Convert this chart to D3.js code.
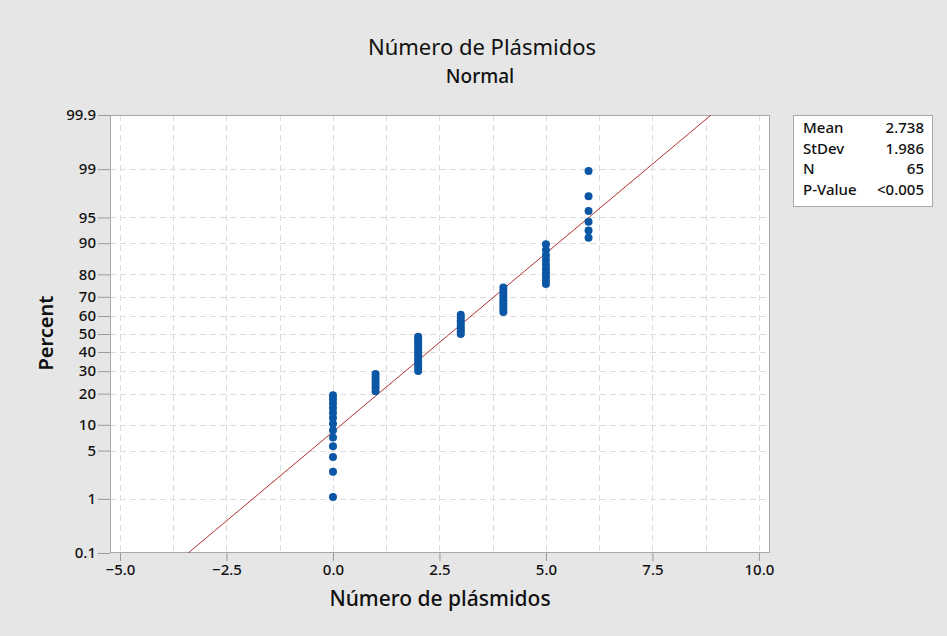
<!DOCTYPE html>
<html>
<head>
<meta charset="utf-8">
<script src="https://cdn.jsdelivr.net/npm/d3@7"></script>
<style>
  html, body { margin: 0; padding: 0; background: #e6e6e6; }
  svg { display: block; font-family: "Noto Sans", "Open Sans", sans-serif; }
</style>
</head>
<body>
<svg id="chart" width="947" height="636"></svg>
<script>
// Observed plasmid counts and how many isolates had each count (N = 65)
const plasmidValues = [0, 1, 2, 3, 4, 5, 6];
const plasmidFreq = [13, 6, 13, 8, 9, 10, 6];

// Probability axis ticks (percent)
const percentTicks = [0.1, 1, 5, 10, 20, 30, 40, 50, 60, 70, 80, 90, 95, 99, 99.9];
const xTicks = [-5, -2.5, 0, 2.5, 5, 7.5, 10];
const xGrid = [-5, -3.75, -2.5, -1.25, 0, 1.25, 2.5, 3.75, 5, 6.25, 7.5, 8.75, 10];

// Summary statistics shown in the legend box
const statLabels = ["Mean", "StDev", "N", "P-Value"];
const statValues = ["2.738", "1.986", "65", "<0.005"];
const fitMean = 2.738, fitSd = 1.986;

// Inverse standard normal CDF (Acklam's rational approximation)
function probit(p) {
  const a = [-39.69683028665376, 220.9460984245205, -275.9285104469687, 138.3577518672690, -30.66479806614716, 2.506628277459239];
  const b = [-54.47609879822406, 161.5858368580409, -155.6989798598866, 66.80131188771972, -13.28068155288572];
  const c = [-0.007784894002430293, -0.3223964580411365, -2.400758277161838, -2.549732539343734, 4.374664141464968, 2.938163982698783];
  const d = [0.007784695709041462, 0.3224671290700398, 2.445134137142996, 3.754408661907416];
  const pl = 0.02425;
  let q, r;
  if (p < pl) {
    q = Math.sqrt(-2 * Math.log(p));
    return (((((c[0]*q+c[1])*q+c[2])*q+c[3])*q+c[4])*q+c[5]) / ((((d[0]*q+d[1])*q+d[2])*q+d[3])*q+1);
  } else if (p <= 1 - pl) {
    q = p - 0.5; r = q * q;
    return (((((a[0]*r+a[1])*r+a[2])*r+a[3])*r+a[4])*r+a[5])*q / (((((b[0]*r+b[1])*r+b[2])*r+b[3])*r+b[4])*r+1);
  } else {
    q = Math.sqrt(-2 * Math.log(1 - p));
    return -(((((c[0]*q+c[1])*q+c[2])*q+c[3])*q+c[4])*q+c[5]) / ((((d[0]*q+d[1])*q+d[2])*q+d[3])*q+1);
  }
}

// Sorted observations with median-rank plotting positions (i - 0.3)/(n + 0.4)
const obs = [];
plasmidValues.forEach((v, k) => { for (let j = 0; j < plasmidFreq[k]; j++) obs.push(v); });
const n = obs.length;
const points = obs.map((v, i) => ({ x: v, p: (i + 1 - 0.3) / (n + 0.4) }));

const svg = d3.select("#chart");
const L = 110, R = 770, T = 115, B = 553;

const x = d3.scaleLinear().domain([-5.235, 10.26]).range([L, R]);
const zTop = probit(0.999), zBot = probit(0.001);
const y = d3.scaleLinear().domain([zBot, zTop]).range([B, T]);
const yP = pct => y(probit(pct / 100));

// Plot area
svg.append("rect").attr("x", L).attr("y", T).attr("width", R - L).attr("height", B - T)
  .attr("fill", "#ffffff");

// Grid
const grid = svg.append("g").attr("stroke", "#dcdcdc").attr("stroke-width", 1)
  .attr("stroke-dasharray", "6,4");
grid.selectAll("line.v").data(xGrid).join("line")
  .attr("x1", d => Math.round(x(d)) + 0.5).attr("x2", d => Math.round(x(d)) + 0.5)
  .attr("y1", T).attr("y2", B);
grid.selectAll("line.h").data(percentTicks.slice(1, -1)).join("line")
  .attr("y1", d => Math.round(yP(d)) + 0.5).attr("y2", d => Math.round(yP(d)) + 0.5)
  .attr("x1", L).attr("x2", R);

// Axes
const yAxis = d3.axisLeft(d3.scaleLinear().domain(y.domain()).range(y.range()))
  .tickValues(percentTicks.map(p => probit(p / 100)))
  .tickFormat((d, i) => String(percentTicks[i]))
  .tickSize(12).tickPadding(2);
const gy = svg.append("g").attr("transform", `translate(${L},0)`).call(yAxis);
const xAxis = d3.axisBottom(x).tickValues(xTicks).tickFormat(d3.format(".1f"))
  .tickSize(8).tickPadding(3);
const gx = svg.append("g").attr("transform", `translate(0,${B})`).call(xAxis);
[gx, gy].forEach(g => {
  g.select(".domain").remove();
  g.selectAll(".tick line").attr("stroke", "#9a9a9a");
  g.selectAll(".tick text").attr("fill", "#111").style("font-size", "15px")
    .style("font-weight", "500").style("font-family", "'Noto Sans', sans-serif");
});

// Frame
svg.append("rect").attr("x", L + 0.5).attr("y", T + 0.5).attr("width", R - L - 1).attr("height", B - T - 1)
  .attr("fill", "none").attr("stroke", "#a8a8a8").attr("stroke-width", 1);

// Fitted normal line
svg.append("clipPath").attr("id", "plotclip")
  .append("rect").attr("x", L).attr("y", T).attr("width", R - L).attr("height", B - T);
svg.append("line")
  .attr("clip-path", "url(#plotclip)")
  .attr("x1", x(fitMean + fitSd * zBot)).attr("y1", y(zBot))
  .attr("x2", x(fitMean + fitSd * zTop)).attr("y2", y(zTop))
  .attr("stroke", "#b03030").attr("stroke-width", 1);

// Data points
svg.append("g").selectAll("circle").data(points).join("circle")
  .attr("cx", d => x(d.x)).attr("cy", d => y(probit(d.p)))
  .attr("r", 4).attr("fill", "#0b57a6");

// Titles
svg.append("text").attr("x", 482).attr("y", 55).attr("text-anchor", "middle")
  .style("font-size", "22px").attr("fill", "#111").text("Número de Plásmidos");
svg.append("text").attr("x", 480).attr("y", 83).attr("text-anchor", "middle")
  .style("font-size", "19px").style("font-weight", "500").attr("fill", "#111").text("Normal");
svg.append("text").attr("x", 440).attr("y", 606).attr("text-anchor", "middle")
  .style("font-size", "21px").style("font-weight", "500").attr("fill", "#111").text("Número de plásmidos");
svg.append("text").attr("transform", "translate(53,333) rotate(-90)").attr("text-anchor", "middle")
  .style("font-size", "20px").style("font-weight", "600").attr("fill", "#111").text("Percent");

// Statistics box
const lg = svg.append("g");
lg.append("rect").attr("x", 793.5).attr("y", 115.5).attr("width", 139).attr("height", 91)
  .attr("fill", "#ffffff").attr("stroke", "#a8a8a8");
statLabels.forEach((s, i) => {
  lg.append("text").attr("x", 803).attr("y", 133 + i * 20.5)
    .style("font-size", "15px").style("font-weight", "500").attr("fill", "#111").text(s);
  lg.append("text").attr("x", 924).attr("y", 133 + i * 20.5).attr("text-anchor", "end")
    .style("font-size", "15px").style("font-weight", "500").attr("fill", "#111").text(statValues[i]);
});
</script>
</body>
</html>
